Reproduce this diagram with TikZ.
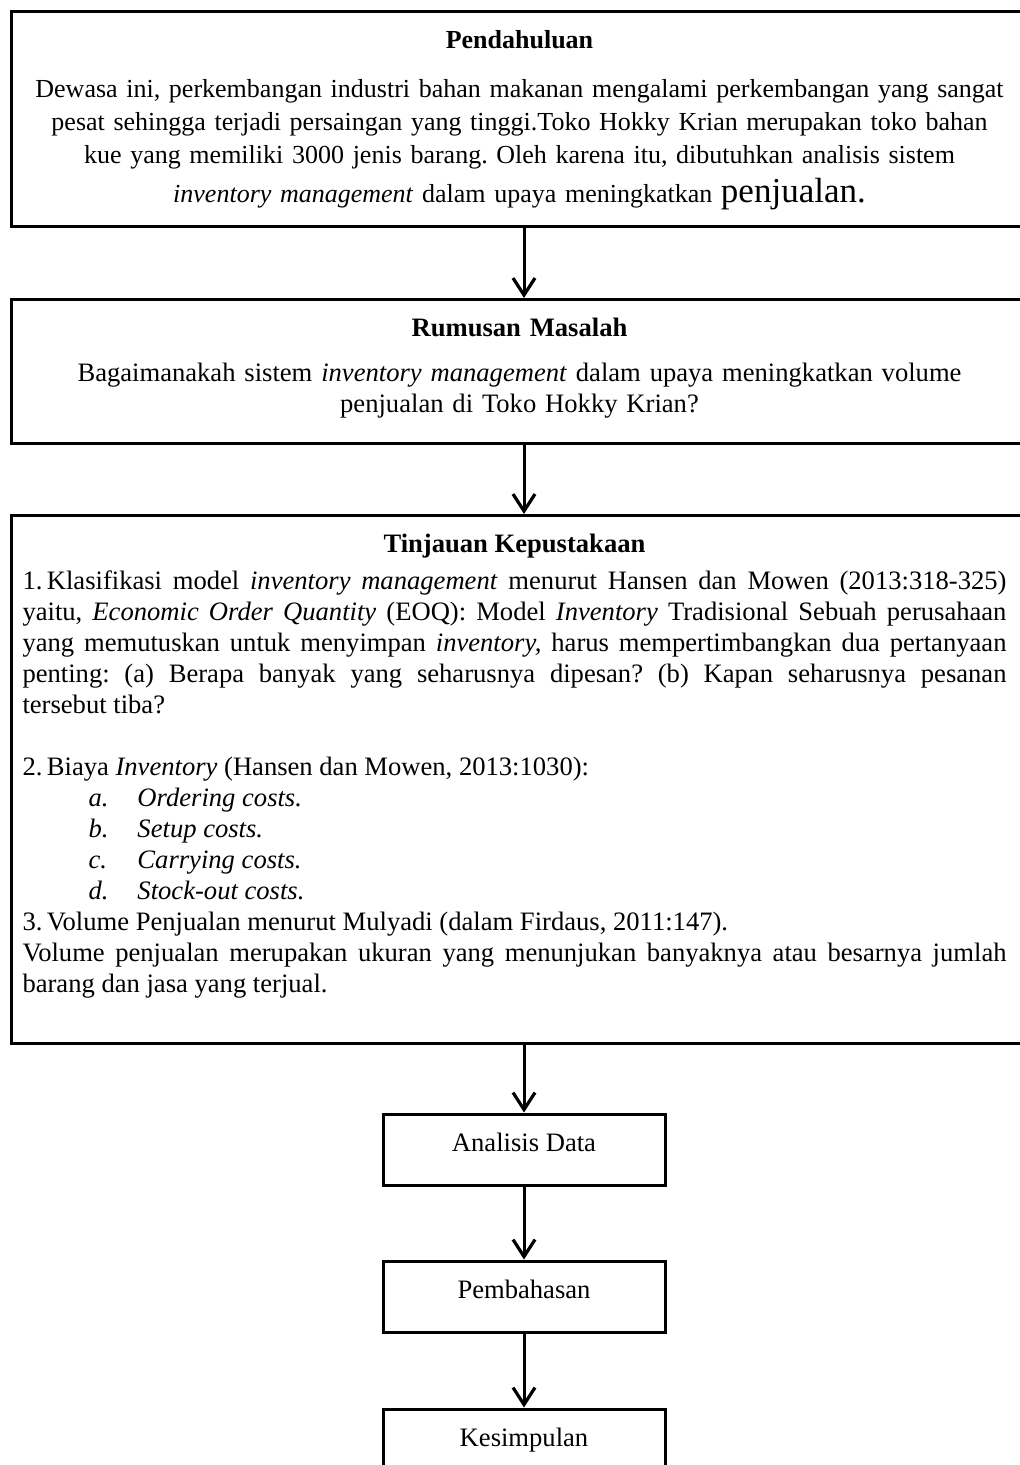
\documentclass[tikz,border=0pt]{standalone}
\usepackage{fontspec}
\setmainfont{Liberation Serif}
\usetikzlibrary{arrows.meta,positioning}
\setlength{\parindent}{0pt}
\hyphenpenalty=10000
\frenchspacing

\newcommand{\bodysize}{\fontsize{13.3}{15.5}\selectfont}
\newcommand{\costitem}[2]{\hspace*{33pt}\makebox[24.5pt][l]{\textit{#1}}\textit{#2}\par}

\tikzset{
  frame/.style={draw, line width=1.5pt, inner sep=0pt, anchor=north west, minimum width=508pt},
  boxtext/.style={anchor=north, inner sep=0pt, text width=492pt, font=\bodysize},
  smallbox/.style={draw, line width=1.5pt, inner sep=0pt, minimum width=141pt, minimum height=35.5pt,
    text height=10pt, text depth=8.5pt, font=\bodysize},
  arrow/.style={line width=1.5pt, -{Straight Barb[length=8.5pt,width=11pt,line width=1.6pt]}}
}

\begin{document}
\begin{tikzpicture}
  \useasboundingbox[fill=white] (0,0) rectangle (510pt,-732.5pt);
  % Frames
  \node[frame, minimum height=107.5pt] (pend) at (5pt,-5pt) {};
  \node[frame, minimum height=72pt] (rum) at (5pt,-149pt) {};
  \node[frame, minimum height=264pt] (tin) at (5pt,-257pt) {};
  % Texts
  \node[boxtext, align=center, text width=500pt, font=\fontsize{13}{16.5}\selectfont] (pendtxt)
    at ([yshift=-10pt]pend.north) {%
    \textbf{Pendahuluan}\\[8pt]
    Dewasa ini, perkembangan industri bahan makanan mengalami perkembangan yang sangat\\
    pesat sehingga terjadi persaingan yang tinggi.Toko Hokky Krian merupakan toko bahan\\
    kue yang memiliki 3000 jenis barang. Oleh karena itu, dibutuhkan analisis sistem\\[3pt]
    \textit{inventory management} dalam upaya meningkatkan {\fontsize{17.5}{20}\selectfont penjualan.}};
  \node[boxtext, align=center] (rumtxt) at ([yshift=-10pt]rum.north) {%
    \textbf{Rumusan Masalah}\\[7pt]
    Bagaimanakah sistem \textit{inventory management} dalam upaya meningkatkan volume\\
    penjualan di Toko Hokky Krian?};
  \node[boxtext, align=justify] (tintxt) at ([xshift=-2.5pt,yshift=-10pt]tin.north) {%
    {\centering\textbf{Tinjauan Kepustakaan}\par}
    \vspace{3pt}
    1.\,Klasifikasi model \textit{inventory management} menurut Hansen dan Mowen (2013:318-325)\linebreak
    yaitu, \textit{Economic Order Quantity} (EOQ): Model \textit{Inventory} Tradisional Sebuah perusahaan\linebreak
    yang memutuskan untuk menyimpan \textit{inventory,} harus mempertimbangkan dua pertanyaan\linebreak
    penting: (a) Berapa banyak yang seharusnya dipesan? (b) Kapan seharusnya pesanan\linebreak
    tersebut tiba?\par
    \vspace{15.5pt}
    2.\,Biaya \textit{Inventory} (Hansen dan Mowen, 2013:1030):\par
    \costitem{a.}{Ordering costs.}
    \costitem{b.}{Setup costs.}
    \costitem{c.}{Carrying costs.}
    \costitem{d.}{Stock-out costs.}
    3.\,Volume Penjualan menurut Mulyadi (dalam Firdaus, 2011:147).\par
    Volume penjualan merupakan ukuran yang menunjukan banyaknya atau besarnya jumlah\linebreak
    barang dan jasa yang terjual.};
  % Steps
  \node[smallbox] (ana) at (262pt,-574.75pt) {Analisis Data};
  \node[smallbox, below=36.5pt of ana] (pem) {Pembahasan};
  \node[smallbox, below=37pt of pem] (kes) {Kesimpulan};
  % Arrows
  \draw[arrow] (pend.south -| ana.north) -- (rum.north -| ana.north);
  \draw[arrow] (rum.south -| ana.north) -- (tin.north -| ana.north);
  \draw[arrow] (tin.south -| ana.north) -- (ana.north);
  \draw[arrow] (ana) -- (pem);
  \draw[arrow] (pem) -- (kes);
\end{tikzpicture}
\end{document}
